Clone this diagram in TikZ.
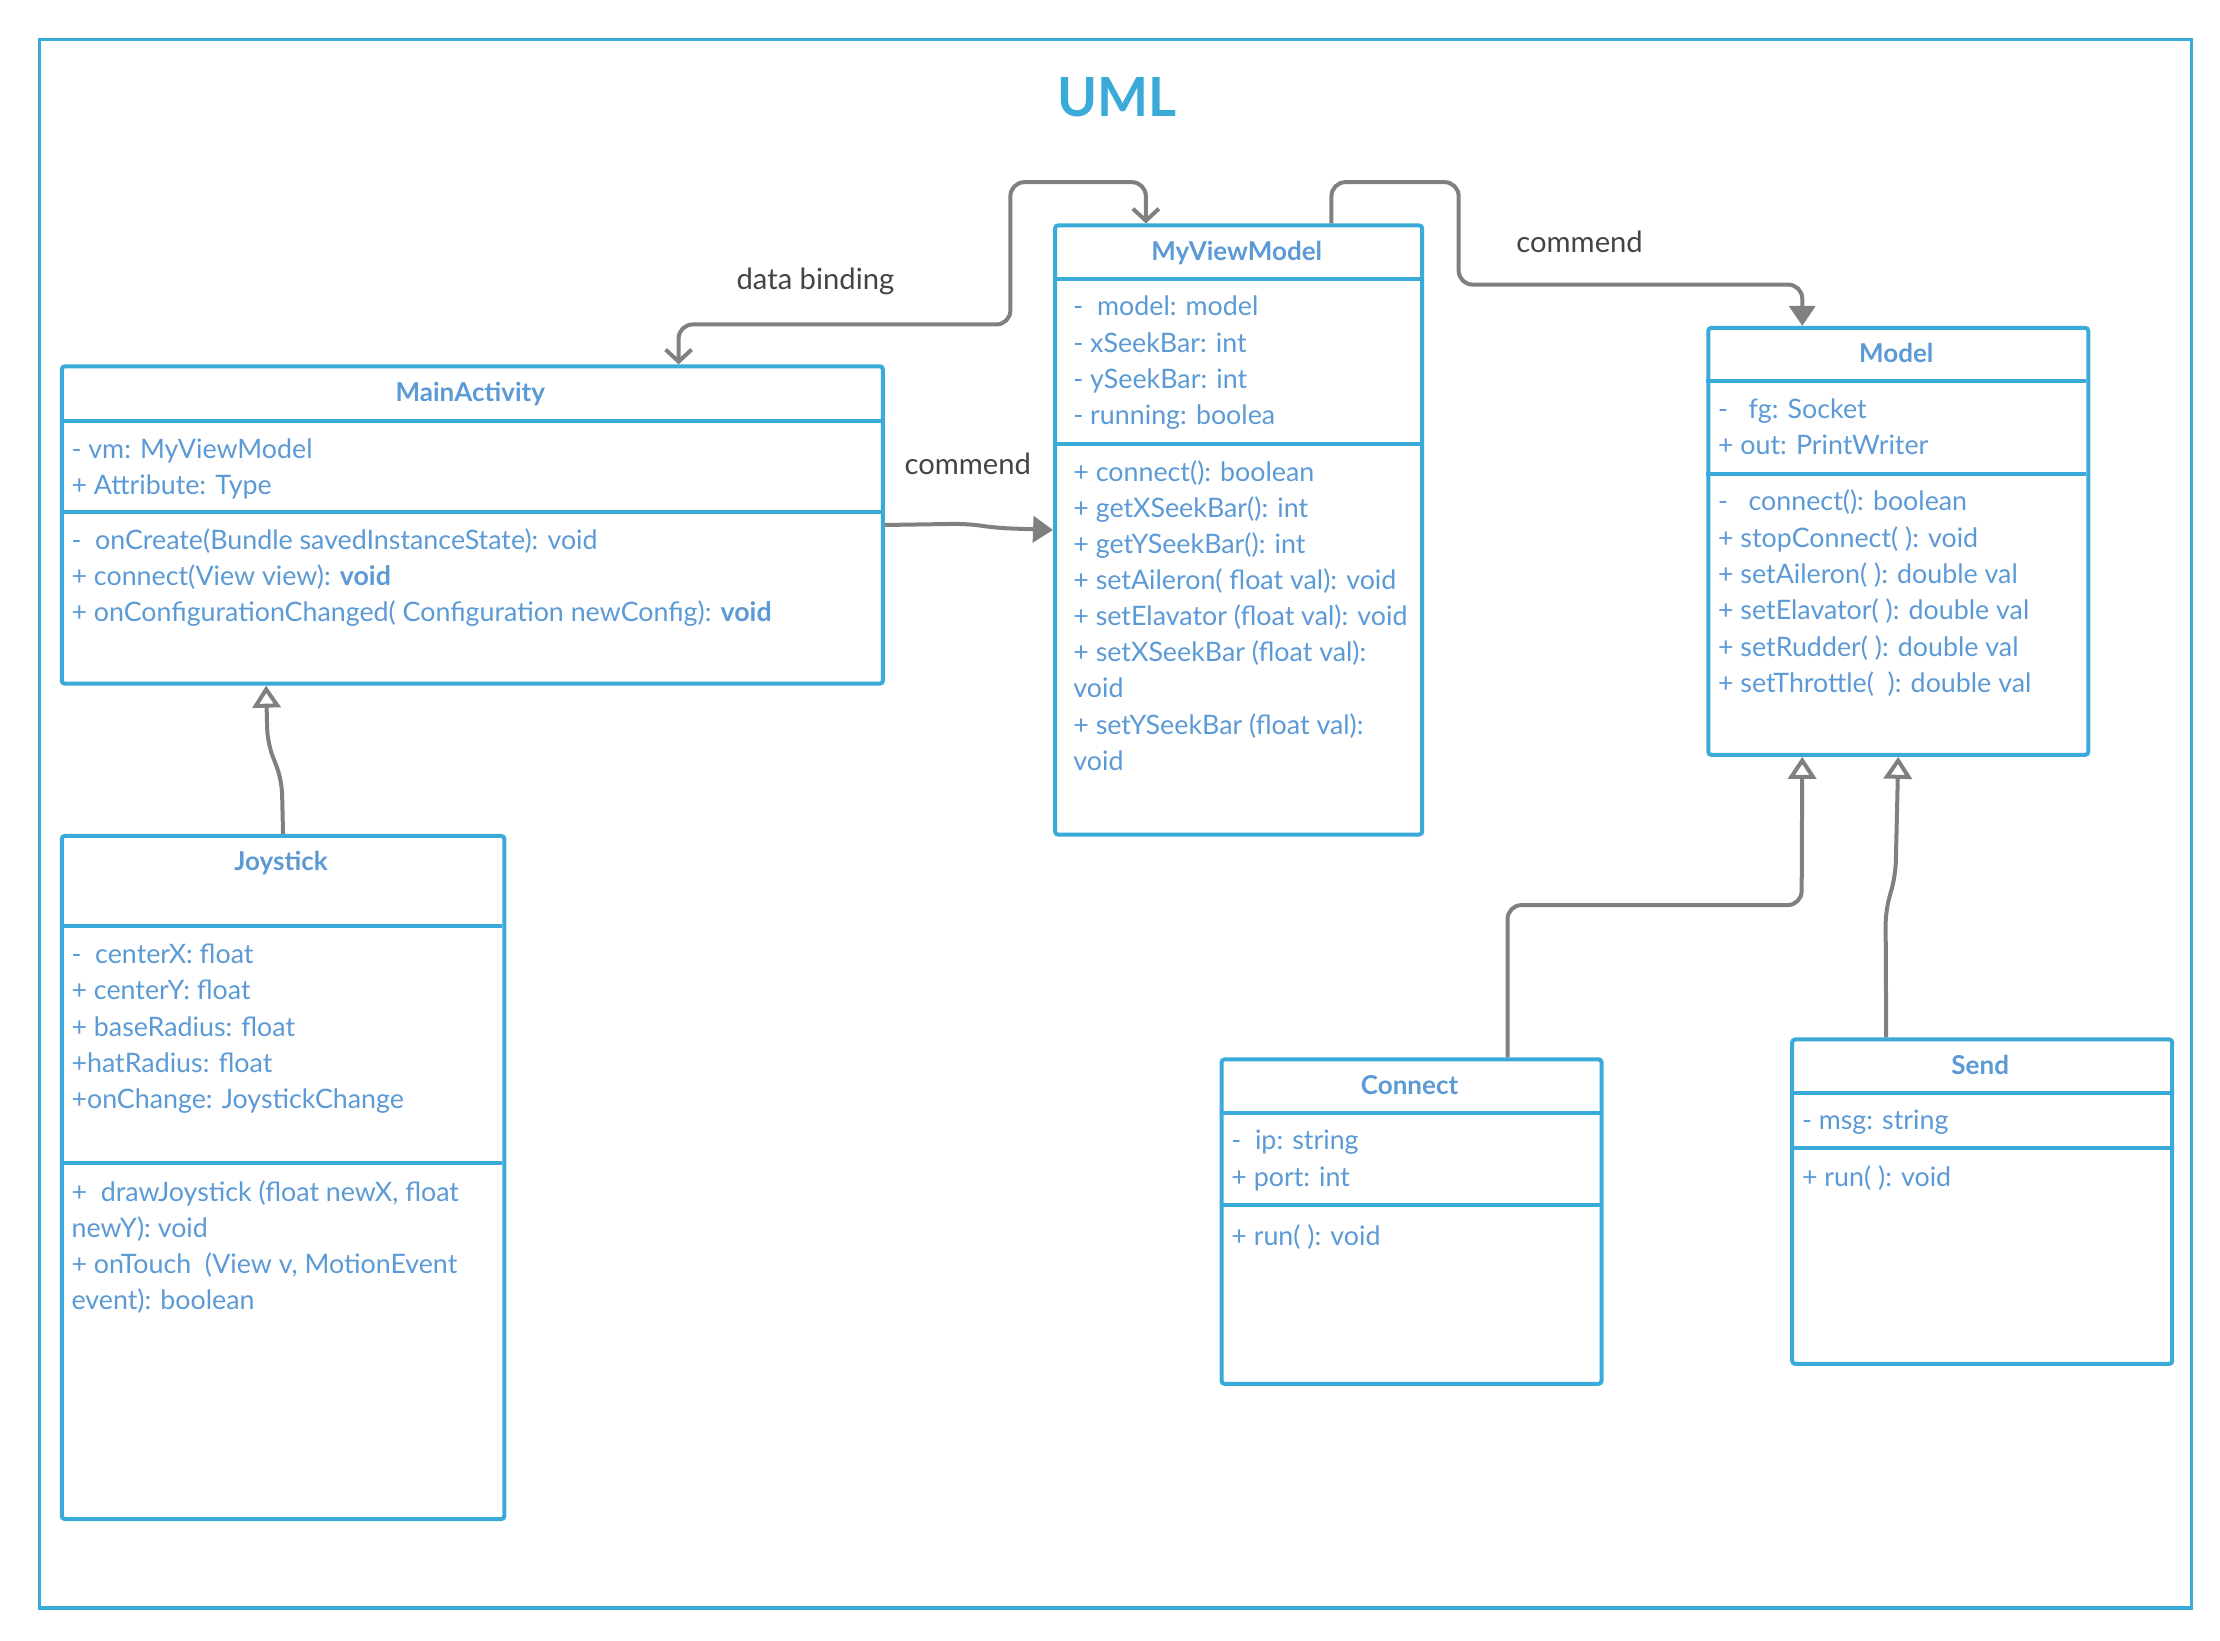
\documentclass[tikz,border=0pt]{standalone}
\usepackage{fontspec}
\setmainfont{Lato}
\usepackage{tikz}
\usetikzlibrary{arrows.meta}
\usetikzlibrary{calc}
\definecolor{umlblue}{RGB}{58,170,216}
\definecolor{txtblue}{RGB}{92,154,214}
\definecolor{linkgray}{RGB}{128,128,128}
\definecolor{labelgray}{RGB}{68,68,68}
\def\umlpx{0.7115pt}
\tikzstyle{classbox} = [rectangle, draw=umlblue, line width=2pt, fill=white,
    rounded corners=1.5pt, anchor=north west, inner sep=0pt]
\tikzstyle{boxline} = [draw=umlblue, line width=2pt]
\tikzstyle{classname} = [anchor=base, text=txtblue, inner sep=0pt,
    font=\fontsize{13}{16}\selectfont\bfseries]
\tikzstyle{member} = [anchor=base west, text=txtblue, inner sep=0pt,
    font=\fontsize{13.4}{16}\selectfont]
\tikzstyle{linklabel} = [text=labelgray, font=\fontsize{14.6}{18}\selectfont]
\tikzstyle{link} = [draw=linkgray, line width=2pt, rounded corners=7pt]
\tikzstyle{binding} = [link, {Straight Barb[length=6pt,width=13pt]}-{Straight Barb[length=6pt,width=13pt]}]
\tikzstyle{command} = [link, -{Triangle[length=10pt,width=13pt]}]
\tikzstyle{inherit} = [link, -{Triangle[open,fill=white,length=11pt,width=14pt]}]

\begin{document}
\begin{tikzpicture}[x=\umlpx, y=-\umlpx]
    \fill[white] (0,0) rectangle (1560,1153);
    \useasboundingbox (0,0) rectangle (1560,1153);
    \draw[umlblue, line width=1.6pt] (28,28) rectangle (1540,1130);
    \node[text=umlblue, font=\fontsize{27}{32}\selectfont\bfseries] (title) at (785,68) {UML};
    % Place nodes
    % MainActivity
    \node[classbox, minimum width=577*\umlpx, minimum height=223*\umlpx] (ma) at (42,256) {};
    \node[classname] (ma-name) at (330.5,282) {MainActivity};
    \draw[boxline] (42,296) -- (619,296);
    \draw[boxline] (42,360) -- (619,360);
    \foreach \txt [count=\i from 0] in {{- vm: MyViewModel}, {+ Attribute: Type}}
        \node[member] (ma-a\i) at (50,322+25.5*\i) {\txt};
    \foreach \txt [count=\i from 0] in {{-\ \ onCreate(Bundle savedInstanceState): void},
        {+ connect(View view): \textbf{void}},
        {+ onConfigurationChanged( Configuration newConfig): \textbf{void}}}
        \node[member] (ma-m\i) at (50,386+25.5*\i) {\txt};
    % MyViewModel
    \node[classbox, minimum width=258*\umlpx, minimum height=428*\umlpx] (vm) at (740,157) {};
    \node[classname] (vm-name) at (869,183) {MyViewModel};
    \draw[boxline] (740,196) -- (998,196);
    \draw[boxline] (740,312) -- (998,312);
    \foreach \txt [count=\i from 0] in {{-\ \ model: model}, {- xSeekBar: int},
        {- ySeekBar: int}, {- running: boolea}}
        \node[member] (vm-a\i) at (754,222+25.5*\i) {\txt};
    \foreach \txt [count=\i from 0] in {{+ connect(): boolean}, {+ getXSeekBar(): int},
        {+ getYSeekBar(): int}, {+ setAileron( float val): void},
        {+ setElavator (float val): void}, {+ setXSeekBar (float val):}, {void},
        {+ setYSeekBar (float val):}, {void}}
        \node[member] (vm-m\i) at (754,338+25.4*\i) {\txt};
    % Model
    \node[classbox, minimum width=267*\umlpx, minimum height=300*\umlpx] (mo) at (1199,229) {};
    \node[classname] (mo-name) at (1332.5,255) {Model};
    \draw[boxline] (1199,268) -- (1466,268);
    \draw[boxline] (1199,333) -- (1466,333);
    \foreach \txt [count=\i from 0] in {{-\ \ \ fg: Socket}, {+ out: PrintWriter}}
        \node[member] (mo-a\i) at (1207,294+25.5*\i) {\txt};
    \foreach \txt [count=\i from 0] in {{-\ \ \ connect(): boolean}, {+ stopConnect( ): void},
        {+ setAileron( ): double val}, {+ setElavator( ): double val},
        {+ setRudder( ): double val}, {+ setThrottle(\ \ ): double val}}
        \node[member] (mo-m\i) at (1207,359+25.5*\i) {\txt};
    % Joystick
    \node[classbox, minimum width=311*\umlpx, minimum height=480*\umlpx] (js) at (42,586) {};
    \node[classname] (js-name) at (197.5,612) {Joystick};
    \draw[boxline] (42,651) -- (353,651);
    \draw[boxline] (42,817) -- (353,817);
    \foreach \txt [count=\i from 0] in {{-\ \ centerX: float}, {+ centerY:\ float},
        {+ baseRadius: float}, {+hatRadius: float}, {+onChange: JoystickChange}}
        \node[member] (js-a\i) at (50,677+25.5*\i) {\txt};
    \foreach \txt [count=\i from 0] in {{+\ \ drawJoystick (float newX, float}, {newY): void},
        {+ onTouch\ \ (View v, MotionEvent}, {event): boolean}}
        \node[member] (js-m\i) at (50,844+25.5*\i) {\txt};
    % Connect
    \node[classbox, minimum width=267*\umlpx, minimum height=228*\umlpx] (cn) at (857,743) {};
    \node[classname] (cn-name) at (990.5,769) {Connect};
    \draw[boxline] (857,782) -- (1124,782);
    \draw[boxline] (857,847) -- (1124,847);
    \foreach \txt [count=\i from 0] in {{-\ \ ip: string}, {+ port: int}}
        \node[member] (cn-a\i) at (865,808+25.5*\i) {\txt};
    \node[member] (cn-m0) at (865,875) {+ run( ): void};
    % Send
    \node[classbox, minimum width=267*\umlpx, minimum height=228*\umlpx] (sd) at (1258,729) {};
    \node[classname] (sd-name) at (1391.5,755) {Send};
    \draw[boxline] (1258,768) -- (1525,768);
    \draw[boxline] (1258,807) -- (1525,807);
    \node[member] (sd-a0) at (1266,794) {- msg: string};
    \node[member] (sd-m0) at (1266,834) {+ run( ): void};
    % Draw edges
    \path[binding] ($(ma.north west)!.75!(ma.north east)$) |- (710,228) -- (710,128)
        -| ($(vm.north west)!.25!(vm.north east)$);
    \node[linklabel] (bind-label) at (573,198) {data binding};
    \path[command] (ma.east) -- (680,368) -- (700,371) -- (vm.west);
    \node[linklabel] (cmd-label1) at (680,326) {commend};
    \path[command] ($(vm.north west)!.75!(vm.north east)$) |- (1025,128) -- (1025,200)
        -| ($(mo.north west)!.25!(mo.north east)$);
    \node[linklabel] (cmd-label2) at (1110,170) {commend};
    \path[inherit] (js.north) -- (198,548) -- (188,522) -- ($(ma.south west)!.25!(ma.south east)$);
    \path[inherit] ($(cn.north west)!.75!(cn.north east)$) |- (1266,636)
        -- ($(mo.south west)!.25!(mo.south east)$);
    \path[inherit] ($(sd.north west)!.25!(sd.north east)$) -- (1325,640) -- (1332,615) -- (mo.south);
\end{tikzpicture}
\end{document}
